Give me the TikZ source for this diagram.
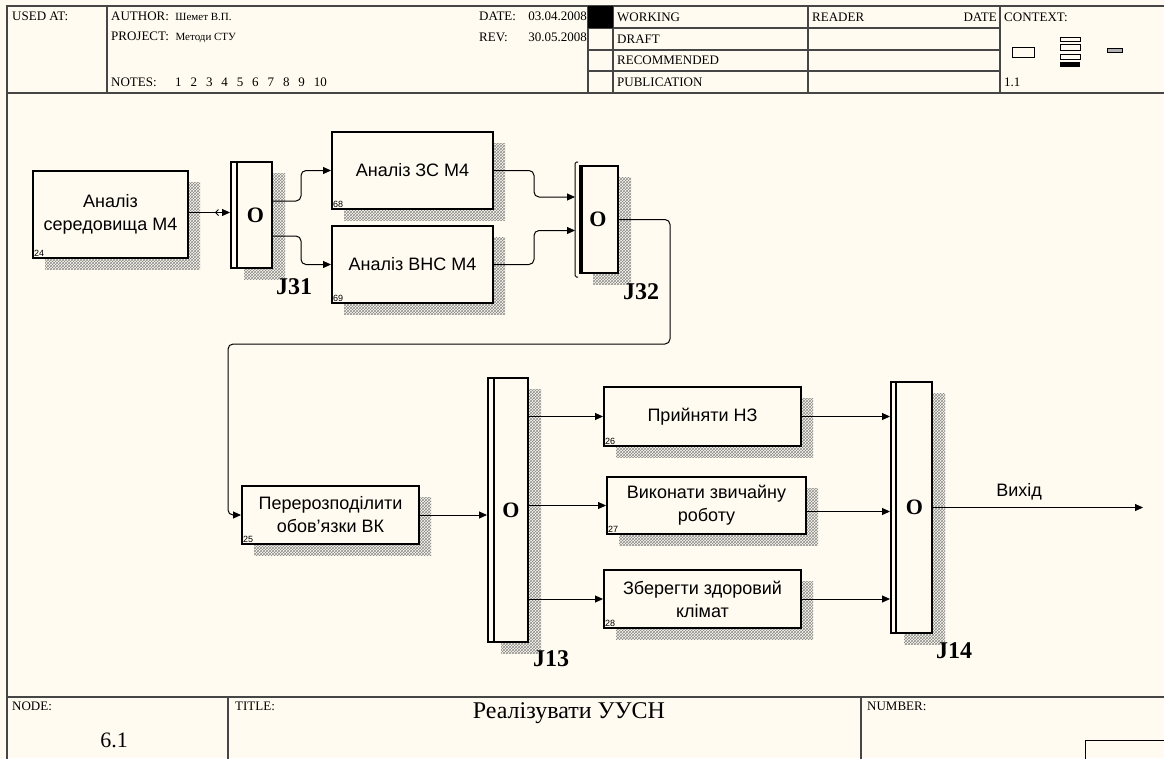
\documentclass[tikz,border=0pt]{standalone}
\usepackage{fontspec}
\setmainfont{Liberation Serif}
\setsansfont{Liberation Sans}
\usetikzlibrary{arrows.meta,positioning,calc,shadows,patterns}
\definecolor{paper}{RGB}{255,251,240}
\definecolor{rule}{RGB}{70,70,70}

\begin{document}
\begin{tikzpicture}[x=1pt,y=-1pt,
  act/.style={rectangle, draw, line width=2pt, fill=paper, align=center,
    inner sep=2pt, font=\sffamily\fontsize{18}{23}\selectfont,
    general shadow={shadow xshift=12pt, shadow yshift=-11pt,
      pattern=crosshatch, pattern color=black!45}},
  junc/.style={rectangle, draw, line width=2pt, fill=paper, inner sep=0pt,
    minimum width=41pt,
    general shadow={shadow xshift=13pt, shadow yshift=-11pt,
      pattern=crosshatch, pattern color=black!45}},
  jo/.style={font=\bfseries\fontsize{22}{22}\selectfont, inner sep=0pt},
  jlab/.style={font=\bfseries\fontsize{24}{24}\selectfont, inner sep=0pt},
  num/.style={anchor=south west, inner sep=2pt, font=\sffamily\fontsize{9}{9}\selectfont},
  arr/.style={line width=1pt, rounded corners=5pt, -{Triangle[length=8pt,width=7pt]}},
  hd/.style={anchor=west, inner sep=0pt, font=\fontsize{13}{13}\selectfont},
  grid/.style={draw=rule, line width=1.5pt}
]
\fill[paper] (0,0) rectangle (1164,758);
\useasboundingbox (0,0) rectangle (1164,758);

% Header
\draw[grid] (1170,6) -- (7,6) -- (7,765);
\draw[grid] (7,93) -- (1170,93);
\foreach \x in {107,588,613,808,1000}
  \draw[grid] (\x,6) -- (\x,93);
\foreach \y in {28,50,71}
  \draw[grid] (588,\y) -- (1000,\y);
\fill (588,6) rectangle (613,28);

\node[hd] (usedat) at (12,16) {USED AT:};
\node[hd] (author) at (111,16) {AUTHOR:\ \ {\fontsize{11}{11}\selectfont Шемет В.П.}};
\node[hd] (project) at (111,37) {PROJECT:\ \ {\fontsize{11}{11}\selectfont Методи СТУ}};
\node[hd] (notes) at (111,82) {NOTES:};
\foreach \n in {1,...,10}
  \node[hd] (note\n) at (175+15.4*\n-15.4,82) {\n};
\node[hd] (date) at (479,16) {DATE:};
\node[hd, anchor=east] (dateval) at (587,16) {03.04.2008};
\node[hd] (rev) at (479,37) {REV:};
\node[hd, anchor=east] (revval) at (587,37) {30.05.2008};

\node[hd] (working) at (617,17) {WORKING};
\node[hd] (draft) at (617,39) {DRAFT};
\node[hd] (recomm) at (617,60.5) {RECOMMENDED};
\node[hd] (public) at (617,82) {PUBLICATION};
\node[hd] (reader) at (812,17) {READER};
\node[hd, anchor=east] (rdate) at (997,17) {DATE};
\node[hd] (context) at (1004,17) {CONTEXT:};
\node[hd] (ctxnum) at (1004,82) {1.1};

% Context icons
\draw[line width=1pt] (1012,47) rectangle (1034,57);
\foreach \a/\b in {37/41,44/50,54/59}
  \draw[line width=1pt] (1060,\a) rectangle (1080,\b);
\fill (1060,62) rectangle (1080,67);
\draw[line width=0.8pt, fill=gray!60] (1107,48) rectangle (1122,52);

% Footer
\draw[grid] (7,697) -- (1170,697);
\draw[grid] (228,697) -- (228,765);
\draw[grid] (861,697) -- (861,765);
\draw[line width=1pt] (1085,765) -- (1085,740) -- (1170,740);
\node[hd] (nodelab) at (12,706) {NODE:};
\node[font=\fontsize{22}{22}\selectfont] (nodenum) at (114,740) {6.1};
\node[hd] (titlelab) at (235,706) {TITLE:};
\node[font=\fontsize{24}{24}\selectfont] (title) at (569,713) {Реалізувати УУСН};
\node[hd] (numlab) at (867,706) {NUMBER:};

% Activities
\node[act, minimum width=155pt, minimum height=87pt,
  label={[num]south west:24}] (a24) at (110.5,214.5) {Аналіз\\середовища М4};
\node[act, minimum width=161pt, minimum height=77pt,
  label={[num]south west:68}] (a68) at (412.5,170.5) {Аналіз ЗС М4};
\node[act, minimum width=161pt, minimum height=77pt,
  label={[num]south west:69}] (a69) at (412.5,264.5) {Аналіз ВНС М4};
\node[act, minimum width=177pt, minimum height=58pt,
  label={[num]south west:25}] (a25) at (330.5,515) {Перерозподілити\\обов'язки ВК};
\node[act, minimum width=197pt, minimum height=59pt,
  label={[num]south west:26}] (a26) at (702.5,416.5) {Прийняти НЗ};
\node[act, minimum width=199pt, minimum height=57pt,
  label={[num]south west:27}] (a27) at (706.5,505.5) {Виконати звичайну\\роботу};
\node[act, minimum width=197pt, minimum height=58pt,
  label={[num]south west:28}] (a28) at (702.5,599) {Зберегти здоровий\\клімат};

% Junctions
\node[junc, minimum height=106pt] (j31) at (251.5,215) {};
\node[junc, minimum width=38pt, minimum height=107pt] (j32) at (599,219.5) {};
\node[junc, minimum width=40pt, minimum height=264pt] (j13) at (508,510) {};
\node[junc, minimum height=251pt] (j14) at (911.5,507.5) {};

\draw[line width=1.5pt] ([shift={(7,0)}]j31.north west) -- ([shift={(7,0)}]j31.south west);
\draw[line width=1.5pt] ([shift={(7,0)}]j13.north west) -- ([shift={(7,0)}]j13.south west);
\draw[line width=1.5pt] ([shift={(6,0)}]j14.north west) -- ([shift={(6,0)}]j14.south west);
\draw[line width=4pt] ([shift={(1.5,0)}]j32.north west) -- ([shift={(1.5,0)}]j32.south west);
\draw[line width=1pt, rounded corners=1.5pt] ([shift={(-1,-3)}]j32.north west) -- ++(-3,0)
  -- ([shift={(-4,3)}]j32.south west) -- ++(3,0);

\node[jo] (o31) at ([shift={(4,0)}]j31.center) {O};
\node[jo] (o32) at ([shift={(-1,0)}]j32.center) {O};
\node[jo] (o13) at ([shift={(3,0)}]j13.center) {O};
\node[jo] (o14) at ([shift={(3,0)}]j14.center) {O};

\node[jlab] (l31) at ([shift={(21,18)}]j31.south east) {J31};
\node[jlab] (l32) at ([shift={(22,18)}]j32.south east) {J32};
\node[jlab] (l13) at ([shift={(22,16)}]j13.south east) {J13};
\node[jlab] (l14) at ([shift={(21,17)}]j14.south east) {J14};

% Links
\coordinate (up) at (670,344);
\coordinate (down) at (228,344);
\coordinate (exit) at (1143,507.5);

\draw[line width=1pt, -{Straight Barb[reversed,length=3pt,width=6pt,sep=3pt]Triangle[length=8pt,width=7pt]}]
  ([shift={(0,-2)}]a24.east) -- ([shift={(0,-2)}]a24.east -| j31.west);
\draw[arr] ([shift={(0,-14)}]j31.east) -- ++(28,0) |- (a68.west);
\draw[arr] ([shift={(0,21)}]j31.east) -- ++(28,0) |- (a69.west);
\draw[arr] (a68.east) -- ++(40,0) |- ([shift={(-4,-22.5)}]j32.west);
\draw[arr] (a69.east) -- ++(40,0) |- ([shift={(-4,11)}]j32.west);
\draw[arr] (j32.east) -| (up) -- (down) |- (a25.west);
\draw[arr] (a25.east) -- (a25.east -| j13.west);
\draw[arr] (j13.east |- a26.west) -- (a26.west);
\draw[arr] (j13.east |- a27.west) -- (a27.west);
\draw[arr] (j13.east |- a28.west) -- (a28.west);
\draw[arr] (a26.east) -- (a26.east -| j14.west);
\draw[arr] ([shift={(0,6)}]a27.east) -- ([shift={(0,6)}]a27.east -| j14.west);
\draw[arr] (a28.east) -- (a28.east -| j14.west);
\draw[arr] (j14.east) -- node[pos=0.41, above=4pt, font=\sffamily\fontsize{18}{18}\selectfont] (out) {Вихід} (exit);
\end{tikzpicture}
\end{document}
